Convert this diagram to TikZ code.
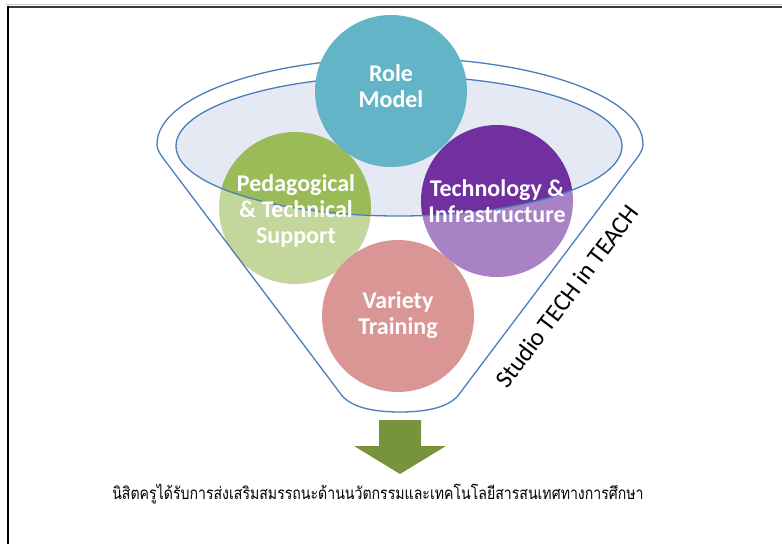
\documentclass[tikz,border=0pt]{standalone}
\usepackage{fontspec}
\setmainfont{Carlito}
\newfontfamily\thaifont[Script=Thai]{Loma}

\definecolor{rolecol}{HTML}{62B4C6}
\definecolor{pedcol}{HTML}{9BBB59}
\definecolor{techcol}{HTML}{7030A0}
\definecolor{varcol}{HTML}{C0504D}
\definecolor{funnelblue}{HTML}{4A7EBB}
\definecolor{rimfill}{HTML}{E4E9F4}
\definecolor{arrowgreen}{HTML}{77933C}
\definecolor{framegray}{HTML}{3A3A3A}

% outline of the funnel body: top rim arc, straight sides, rounded spout
\newcommand\funneloutline{(163,158) .. controls (158,151) and (157,148) .. (157,144)
  arc[start angle=180, end angle=360, x radius=243, y radius=86]
  .. controls (643,148) and (642,151) .. (637,158) -- (460,393)
  .. controls (450,408) and (425,412) .. (400,412)
  .. controls (375,412) and (350,408) .. (340,393) -- cycle}
\newcommand\funnelmouth{(399,146) ellipse [x radius=223, y radius=70]}

\begin{document}
\begin{tikzpicture}[x=1pt, y=-1pt,
  ball/.style={circle, minimum size=152pt, inner sep=0pt},
  balltext/.style={text=white, align=center,
    font=\bfseries\fontsize{24}{26}\selectfont},
  funnelline/.style={draw=funnelblue, line width=1.3pt}]
\useasboundingbox (0,0) rectangle (782,544);
\fill[white] (0,0) rectangle (782,544);

% page frame (left and top edges)
\draw[gray!40, line width=1pt] (6,4.5) -- (782,4.5);
\draw[framegray, line width=1.8pt] (7,7) -- (782,7);
\draw[black, line width=2pt] (8,6) -- (8,544);

% mouth of the funnel
\fill[rimfill] \funnelmouth;

% the three lower balls
\node[ball, fill=pedcol]  (ped)  at (295,208) {};
\node[ball, fill=techcol] (tech) at (497,201) {};
\node[ball, fill=varcol]  (var)  at (398,316) {};

% funnel body seen through: lightens what lies below the mouth
\fill[white, fill opacity=0.4, even odd rule] \funneloutline \funnelmouth;

% funnel outlines
\draw[funnelline] \funneloutline;
\draw[funnelline] \funnelmouth;

% top ball
\node[ball, fill=rolecol] (role) at (391,91) {};

% labels
\node[balltext] (roletext) at (391,86) {Role\\Model};
\node[balltext] (pedtext)  at (296,211) {Pedagogical\\\& Technical\\Support};
\node[balltext] (techtext) at (497,201) {Technology \&\\Infrastructure};
\node[balltext] (vartext)  at (398,315) {Variety\\Training};

\node[rotate=53, font=\fontsize{25}{28}\selectfont] (studio) at (567,296) {Studio TECH in TEACH};

% output arrow
\fill[arrowgreen] (379,420) -- (421,420) -- (421,446) -- (446,446) -- (400,474)
  -- (354,446) -- (379,446) -- cycle;

\node[font=\thaifont\fontsize{17}{20}\selectfont] (result) at (378,494)
  {\scalebox{0.83}[1]{นิสิตครูได้รับการส่งเสริมสมรรถนะด้านนวัตกรรมและเทคโนโลยีสารสนเทศทางการศึกษา}};
\end{tikzpicture}
\end{document}
